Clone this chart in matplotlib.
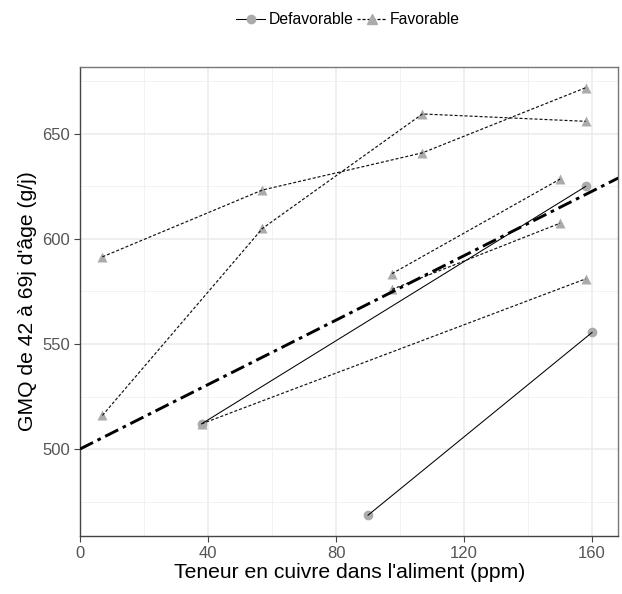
import matplotlib
matplotlib.use("Agg")
import matplotlib.pyplot as plt
from matplotlib.lines import Line2D

plt.rcParams['font.family'] = ['Liberation Sans', 'DejaVu Sans']
plt.rcParams['lines.scale_dashes'] = False

# Defavorable groups (circles, solid)
def_groups_x = [[38, 158], [90, 160]]
def_groups_y = [[512, 625], [468.5, 555.5]]

# Favorable groups (triangles, dotted)
fav_groups_x = [[7, 57, 107, 158], [7, 57, 107, 158], [38, 158], [97.5, 150], [97.5, 150]]
fav_groups_y = [[591.5, 623.3, 641, 672], [516, 605, 659.5, 656], [512, 581], [583.5, 628.5], [576, 607.5]]

# overall regression line
reg_intercept = 500
reg_slope = 0.767

x_ticks = [0, 40, 80, 120, 160]
y_ticks = [500, 550, 600, 650]

fig = plt.figure(figsize=(6.22, 5.94), dpi=100)
ax = fig.add_axes([80/622, 1-536/594, (618.3-80)/622, (536-66.7)/594])

marker_col = '#ABABAB'
fav_dash = (2.2, 1.4)

for gx, gy in zip(fav_groups_x, fav_groups_y):
    ax.plot(gx, gy, linestyle='none', marker='^', ms=7.5, color=marker_col, mec='none', zorder=3)
for gx, gy in zip(def_groups_x, def_groups_y):
    ax.plot(gx, gy, linestyle='none', marker='o', ms=7, color=marker_col, mec='none', zorder=3.5)
for gx, gy in zip(def_groups_x, def_groups_y):
    ax.plot(gx, gy, color='black', lw=0.75, zorder=4)
for gx, gy in zip(fav_groups_x, fav_groups_y):
    ax.plot(gx, gy, color='#111111', lw=0.85, dashes=fav_dash, zorder=4)

reg = ax.axline((0, reg_intercept), slope=reg_slope, color='black', lw=2.1, zorder=5)
reg.set_dashes((10.5, 3.6, 2.6, 3.6))

ax.set_xlim(0, 168.2)
ax.set_ylim(458.6, 682)
ax.set_xticks(x_ticks)
ax.set_yticks(y_ticks)
ax.set_xticks([20, 60, 100, 140], minor=True)
ax.set_yticks([475, 525, 575, 625, 675], minor=True)
ax.grid(which='major', color='#EBEBEB', lw=1.1, zorder=0)
ax.grid(which='minor', color='#F2F2F2', lw=0.7, zorder=0)
ax.set_axisbelow(True)
ax.tick_params(which='minor', length=0)
ax.tick_params(which='major', length=4, width=0.8, color='#444444', labelcolor='#555555', labelsize=12, pad=3)
for s in ['top', 'right']:
    ax.spines[s].set_color('#777777')
    ax.spines[s].set_linewidth(1.0)
for s in ['left', 'bottom']:
    ax.spines[s].set_color('#444444')
    ax.spines[s].set_linewidth(1.0)

ax.set_xlabel("Teneur en cuivre dans l'aliment (ppm)", fontsize=15.2, labelpad=2)
ax.set_ylabel("GMQ de 42 à 69j d'âge (g/j)", fontsize=15.2, labelpad=4)

h1 = Line2D([], [], color='black', lw=0.75, marker='o', ms=6, mfc=marker_col, mec=marker_col)
h2 = Line2D([], [], color='black', lw=0.9, dashes=fav_dash, marker='^', ms=6.5, mfc=marker_col, mec=marker_col)
fig.legend([h1, h2], ['Defavorable', 'Favorable'], loc='center', bbox_to_anchor=(348/622, 1-20/594),
           ncol=2, frameon=False, fontsize=11.3, handlelength=1.85, handletextpad=0.2, columnspacing=0.25)

fig.savefig('out.png', dpi=100)
